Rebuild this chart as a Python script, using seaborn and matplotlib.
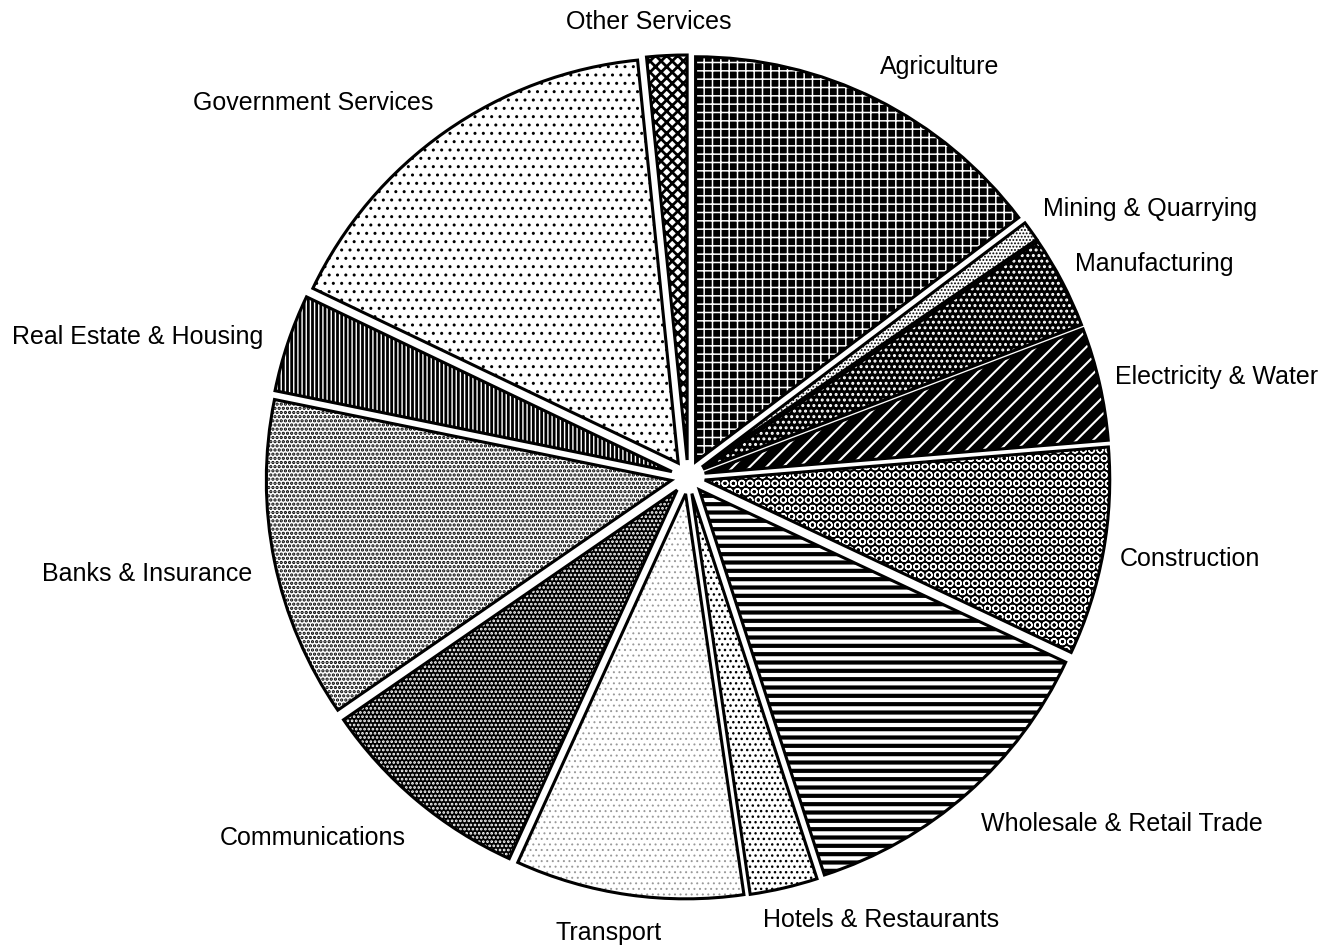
import matplotlib
matplotlib.use("Agg")
import matplotlib as mpl
import matplotlib.pyplot as plt
from matplotlib.patches import Wedge
import seaborn as sns

# Sector shares of GDP (%), clockwise from 12 o'clock
sectors = [
    "Agriculture", "Mining & Quarrying", "Manufacturing", "Electricity & Water",
    "Construction", "Wholesale & Retail Trade", "Hotels & Restaurants",
    "Transport", "Communications", "Banks & Insurance",
    "Real Estate & Housing", "Government Services", "Other Services",
]
shares = [14.7, 0.8, 3.7, 4.5, 8.3, 13.0, 2.7, 9.1, 8.6, 12.8, 3.9, 16.3, 1.6]

# Fill style per sector: face colour, hatch, hatch colour, hatch line width
styles = [
    ("black", "++", "white", 1.1),
    ("white", ".....", "black", 0.9),
    ("black", "...", "white", 1.4),
    ("black", "//", "white", 1.5),
    ("black", "OO", "white", 1.0),
    ("white", "--", "black", 3.0),
    ("white", "...", "black", 1.0),
    ("white", "...", "#9a9a9a", 0.7),
    ("black", "....", "white", 1.3),
    ("white", "....", "black", 1.6),
    ("black", "||||", "white", 1.0),
    ("white", "..", "black", 1.0),
    ("white", "xxx", "black", 2.0),
]

# Label anchors in pixels (left edge, cap-centre line)
label_pos = [
    (880, 65), (1043, 207), (1075, 262), (1115, 375), (1120, 557),
    (981, 822), (763, 918), (555, 931), (220, 836), (42, 572),
    (12, 335), (193, 101), (566, 20),
]

W, H = 1332, 948
CX, CY, R = 688, 477, 405

sns.set_theme(style="white")
plt.rcParams["font.family"] = ["Liberation Sans", "DejaVu Sans"]

fig = plt.figure(figsize=(W / 100, H / 100), dpi=100)
fig.patch.set_facecolor("white")
ax = fig.add_axes([0, 0, 1, 1])

wedges, _ = ax.pie(
    shares,
    explode=[0.042] * len(shares),
    startangle=90,
    counterclock=False,
    radius=1.0,
)

def hatched_draw(patch, lw):
    base_draw = patch.draw

    def draw(renderer):
        with mpl.rc_context({"hatch.linewidth": lw}):
            base_draw(renderer)
    return draw

for w, (face, hatch, hcol, hlw) in zip(wedges, styles):
    w.set_facecolor(face)
    w.set_edgecolor(hcol)
    w.set_hatch(hatch)
    w.set_linewidth(0)
    if hasattr(w, "set_hatch_linewidth"):
        w.set_hatch_linewidth(hlw)
    w.draw = hatched_draw(w, hlw)
    outline = Wedge(w.center, w.r, w.theta1, w.theta2, fill=False,
                    edgecolor="black", linewidth=2.2, joinstyle="miter")
    ax.add_patch(outline)

ax.set_xlim(-CX / R, (W - CX) / R)
ax.set_ylim(-(H - CY) / R, CY / R)
ax.set_aspect("auto")
ax.axis("off")

for name, (px, py) in zip(sectors, label_pos):
    fig.text(px / W, 1 - (py + 9) / H, name, ha="left", va="baseline",
             fontsize=18, color="black")

fig.savefig("out.png", dpi=100, facecolor="white")
